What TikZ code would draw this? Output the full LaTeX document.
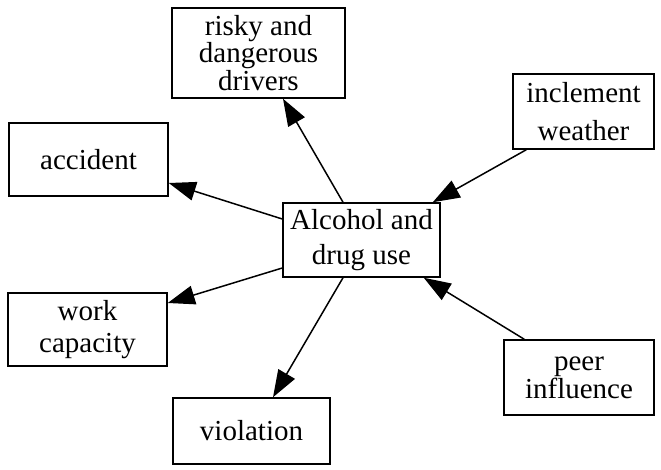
\documentclass[tikz,border=0pt]{standalone}
\usepackage{fontspec}
\setmainfont{Liberation Serif}
\usetikzlibrary{arrows.meta}
\begin{document}
\begin{tikzpicture}[x=1pt,y=-1pt,
  box/.style={draw, line width=1.5pt, inner sep=0pt, align=center,
    font=\fontsize{29}{30}\selectfont},
  arr/.style={line width=1.5pt, -{Triangle[length=27pt,width=19pt]}}]
\useasboundingbox (0,0) rectangle (661,470);
% concept boxes
\node[box, minimum width=173pt, minimum height=90pt,
  font=\fontsize{29}{25.5}\selectfont] (risky) at (258.5,53)
  {risky and\\dangerous\\drivers};
\node[box, minimum width=157pt, minimum height=74pt,
  font=\fontsize{29}{35}\selectfont] (alc) at (361.5,240)
  {Alcohol and\\drug use};
\node[box, minimum width=141pt, minimum height=75pt,
  font=\fontsize{29}{38}\selectfont] (weather) at (583.5,111.5)
  {inclement\\weather};
\node[box, minimum width=159pt, minimum height=73pt] (acc) at (88.5,159.5)
  {accident};
\node[box, minimum width=159pt, minimum height=73pt,
  font=\fontsize{29}{32}\selectfont] (work) at (87.5,329.5)
  {work\\capacity};
\node[box, minimum width=150pt, minimum height=75pt,
  font=\fontsize{29}{28}\selectfont] (peer) at (579,377.5)
  {peer\\influence};
\node[box, minimum width=157pt, minimum height=66pt] (viol) at (251.5,431)
  {violation};
% influences
\draw[arr] ([xshift=-18.5pt]alc.north) -- ([xshift=24.5pt]risky.south);
\draw[arr] ([xshift=14pt]weather.south west) -- ([xshift=-8pt]alc.north east);
\draw[arr] ([yshift=21pt]alc.west) -- ([yshift=-23.5pt]acc.east);
\draw[arr] ([yshift=-28pt]alc.west) -- ([yshift=26.5pt]work.east);
\draw[arr] ([xshift=-18.5pt]alc.south) -- ([xshift=21.5pt]viol.north);
\draw[arr] ([xshift=21pt]peer.north west) -- ([xshift=-17pt]alc.south east);
\end{tikzpicture}
\end{document}
